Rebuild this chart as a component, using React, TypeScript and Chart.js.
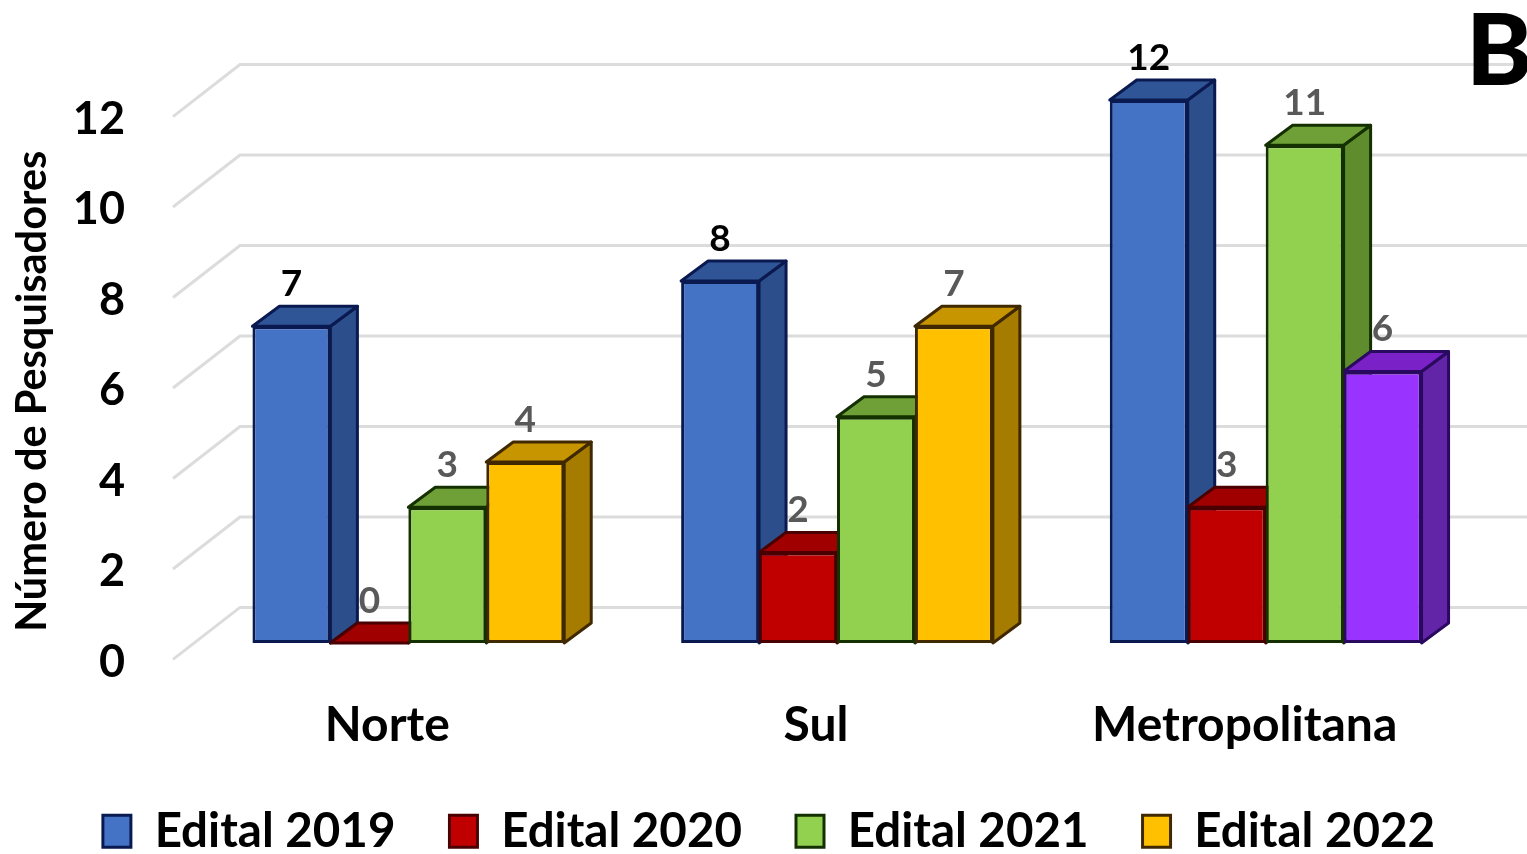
import React, { useEffect, useRef } from "react";
import { Chart, registerables } from "chart.js";

Chart.register(...registerables);

const categories = ["Norte", "Sul", "Metropolitana"];
const seriesNames = ["Edital 2019", "Edital 2020", "Edital 2021", "Edital 2022"];
const edital2019 = [7, 8, 12];
const edital2020 = [0, 2, 3];
const edital2021 = [3, 5, 11];
const edital2022 = [4, 7, 6];
const tickValues = [0, 2, 4, 6, 8, 10, 12];

const FONT = "Lato";
const BLUE = { front: "#4472C4", top: "#2F5597", side: "#2C4F8C", line: "#0A1A50" };
const RED = { front: "#C00000", top: "#A00000", side: "#8E0000", line: "#4A0000" };
const GREEN = { front: "#92D050", top: "#6FA038", side: "#5F8C2C", line: "#143000" };
const YELLOW = { front: "#FFC000", top: "#C69500", side: "#A67C00", line: "#402800" };
const PURPLE = { front: "#9933FF", top: "#7A22C8", side: "#6325A8", line: "#2A0A60" };
const seriesStyles = [[BLUE, BLUE, BLUE], [RED, RED, RED], [GREEN, GREEN, GREEN], [YELLOW, YELLOW, PURPLE]];
const seriesValues = [edital2019, edital2020, edital2021, edital2022];

const DEPTH_X = 27;
const DEPTH_Y = 20;

const poly = (ctx: CanvasRenderingContext2D, pts: number[][], fill: string, line: string) => {
  ctx.beginPath();
  pts.forEach(([x, y], i) => (i ? ctx.lineTo(x, y) : ctx.moveTo(x, y)));
  ctx.closePath();
  ctx.fillStyle = fill;
  ctx.fill();
  ctx.lineWidth = 3;
  ctx.strokeStyle = line;
  ctx.lineJoin = "round";
  ctx.stroke();
};

const bars3d = {
  id: "bars3d",
  beforeDatasetsDraw(chart: any) {
    const { ctx } = chart;
    const y = chart.scales.y;
    ctx.save();
    // receding wall and floor lines
    ctx.strokeStyle = "#DCDCDC";
    ctx.lineWidth = 3;
    tickValues.forEach((v) => {
      const back = y.getPixelForValue(v) - 35.5;
      ctx.beginPath();
      ctx.moveTo(173, back + 52);
      ctx.lineTo(240, back);
      ctx.lineTo(chart.width, back);
      ctx.stroke();
    });
    // tops and sides, in series order so later bars sit over earlier sides
    chart.data.datasets.forEach((_: any, di: number) => {
      chart.getDatasetMeta(di).data.forEach((bar: any, i: number) => {
        const st = seriesStyles[di][i];
        const l = bar.x - bar.width / 2;
        const r = bar.x + bar.width / 2;
        const t = bar.y;
        const b = bar.base;
        poly(ctx, [[r, t], [r + DEPTH_X, t - DEPTH_Y], [r + DEPTH_X, b - DEPTH_Y], [r, b]], st.side, st.line);
        poly(ctx, [[l, t], [l + DEPTH_X, t - DEPTH_Y], [r + DEPTH_X, t - DEPTH_Y], [r, t]], st.top, st.line);
      });
    });
    ctx.restore();
  },
  afterDatasetsDraw(chart: any) {
    const { ctx } = chart;
    ctx.save();
    ctx.textAlign = "center";
    ctx.textBaseline = "middle";
    ctx.font = `bold 37px ${FONT}`;
    chart.data.datasets.forEach((ds: any, di: number) => {
      chart.getDatasetMeta(di).data.forEach((bar: any, i: number) => {
        ctx.fillStyle = di === 0 ? "#000000" : "#595959";
        ctx.fillText(String(ds.data[i]), bar.x, bar.y - 42);
      });
    });
    ctx.textAlign = "left";
    ctx.fillStyle = "#000000";
    ctx.font = `900 100px ${FONT}`;
    ctx.fillText("B", 1466, 53);
    ctx.restore();
  },
};

export default function App() {
  const ref = useRef<HTMLCanvasElement>(null);
  useEffect(() => {
    const chart = new Chart(ref.current!, {
      type: "bar",
      data: {
        labels: categories,
        datasets: seriesNames.map((name, di) => ({
          label: name,
          data: seriesValues[di],
          backgroundColor: seriesStyles[di].map((s) => s.front),
          borderColor: seriesStyles[di].map((s) => s.line),
          borderWidth: 3,
          borderSkipped: false,
          yAxisID: "y",
          categoryPercentage: 0.7273,
          barPercentage: 1,
        })),
      },
      options: {
        responsive: false,
        animation: false,
        layout: { padding: { top: 83, right: 0, bottom: -11, left: 11 } },
        plugins: {
          tooltip: { enabled: false },
          legend: {
            position: "bottom",
            labels: {
              boxWidth: 28,
              boxHeight: 32,
              padding: 54,
              color: "#000000",
              font: { family: FONT, size: 47.5, weight: "bold" },
              generateLabels: () =>
                seriesNames.map((text, di) => ({
                  text,
                  fillStyle: seriesStyles[di][0].front,
                  strokeStyle: seriesStyles[di][0].line,
                  lineWidth: 3,
                  datasetIndex: di,
                })),
            },
          },
        },
        scales: {
          x: {
            grid: { display: false, drawTicks: false },
            border: { display: false },
            afterFit: (s: any) => { s.height = 67; },
            ticks: {
              color: "#000000",
              padding: 10,
              labelOffset: -21,
              maxRotation: 0,
              font: { family: FONT, size: 48, weight: "bold" },
            },
          },
          y: { display: false, min: -0.963, max: 12.09 },
          yt: {
            position: "left",
            min: -0.54,
            max: 12.513,
            grid: { display: false, drawTicks: false },
            border: { display: false },
            afterFit: (s: any) => { s.width = 183; },
            afterBuildTicks: (s: any) => { s.ticks = tickValues.map((value) => ({ value })); },
            ticks: {
              color: "#000000",
              padding: 69,
              autoSkip: false,
              callback: (v: any) => String(v),
              font: { family: FONT, size: 45, weight: "bold" },
            },
            title: {
              display: true,
              text: "Número de Pesquisadores",
              color: "#000000",
              padding: { top: -3, bottom: 0 },
              font: { family: FONT, size: 41.5, weight: "bold" },
            },
          },
          yr: {
            position: "right",
            grid: { display: false, drawTicks: false },
            border: { display: false },
            ticks: { display: false },
            afterFit: (s: any) => { s.width = 47; },
          },
        },
      },
      plugins: [bars3d],
    } as any);
    return () => chart.destroy();
  }, []);
  return (
    <div style={{ position: "absolute", left: 0, top: 0, width: 1527, height: 854, background: "#fff" }}>
      <canvas ref={ref} width={1527} height={854} style={{ display: "block" }} />
    </div>
  );
}
